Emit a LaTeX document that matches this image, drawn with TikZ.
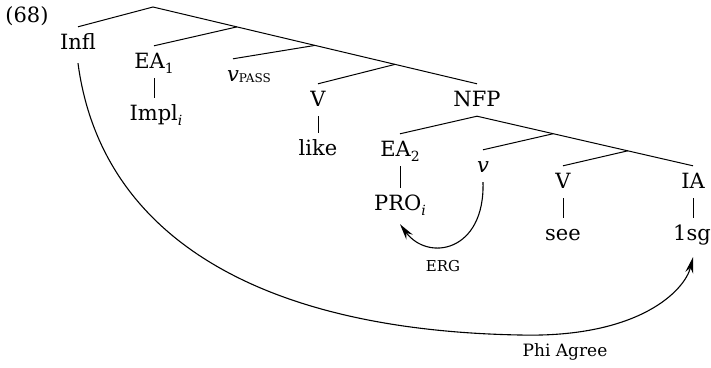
\documentclass[tikz,border=0pt]{standalone}
\usepackage{fontspec}
\setmainfont{DejaVu Serif}
\usetikzlibrary{arrows.meta,calc}
\newcommand{\sbs}[1]{\raisebox{-5pt}{\fontsize{14}{14}\selectfont #1}}
\begin{document}
\begin{tikzpicture}[x=1pt,y=-1pt,
  lab/.style={anchor=base,font=\fontsize{21}{25}\selectfont,text height=16pt,text depth=4pt,inner xsep=1pt,inner ysep=6pt},
  tline/.style={line width=1pt},
  arr/.style={line width=1.1pt,-{Stealth[length=16pt,width=8pt]}}]
\useasboundingbox (0,0) rectangle (711,367);
% labels
\node[lab] (ex) at (27,22) {(68)};
\node[lab] (infl) at (78,49) {Infl};
\node[lab] (ea1) at (154,68) {EA\sbs{1}};
\node[lab] (impl) at (156,120) {Impl\sbs{\itshape i}};
\node[lab] (vpass) at (233,81) {\itshape v\rlap{\raisebox{-1pt}{\upshape\fontsize{12}{12}\selectfont PASS}}};
\node[lab] (vone) at (318,106) {V};
\node[lab] (like) at (318,155) {like};
\node[lab] (nfp) at (477,106) {NFP};
\node[lab] (ea2) at (400,156) {EA\sbs{2}};
\node[lab] (pro) at (400,210) {PRO\sbs{\itshape i}};
\node[lab] (vsm) at (483,172) {\itshape v};
\node[lab] (vtwo) at (563,188) {V};
\node[lab] (see) at (563,240) {see};
\node[lab] (ia) at (693,188) {IA};
\node[lab] (onesg) at (692,240) {1sg};
% tree
\coordinate (root) at (153,7);
\coordinate (b1) at ($(root)!0.259!(nfp.north)$);
\coordinate (b2) at ($(root)!0.5!(nfp.north)$);
\coordinate (b3) at ($(root)!0.747!(nfp.north)$);
\coordinate (b4) at ($(nfp.south)!0.353!(ia.north)$);
\coordinate (b5) at ($(nfp.south)!0.698!(ia.north)$);
\draw[tline] (infl.north) -- (root) -- (nfp.north);
\draw[tline] (b1) -- (ea1.north);
\draw[tline] (b2) -- (vpass.north);
\draw[tline] (b3) -- (vone.north);
\draw[tline] (ea2.north) -- (nfp.south) -- (ia.north);
\draw[tline] (b4) -- (vsm.north);
\draw[tline] (b5) -- (vtwo.north);
\draw[tline] (ea1.south) -- (ea1.south |- impl.north);
\draw[tline] (vone.south) -- (like.north);
\draw[tline] (ea2.south) -- (ea2.south |- pro.north);
\draw[tline] (vtwo.south) -- (see.north);
\draw[tline] (ia.south) -- (ia.south |- onesg.north);
% arrows
\draw[arr] (vsm.south) .. controls (485,252) and (428,262) .. ([yshift=-4pt]pro.south);
\node[font=\fontsize{15}{18}\selectfont] (erg) at (443,266) {ERG};
\draw[arr] ([yshift=-4pt]infl.south) .. controls (100,230) and (250,330) .. (520,335) .. controls (640,338) and (685,290) .. ([yshift=-7pt]ia.south |- onesg.south);
\node[font=\fontsize{17}{20}\selectfont] (phi) at (565,352) {Phi Agree};
\end{tikzpicture}
\end{document}
